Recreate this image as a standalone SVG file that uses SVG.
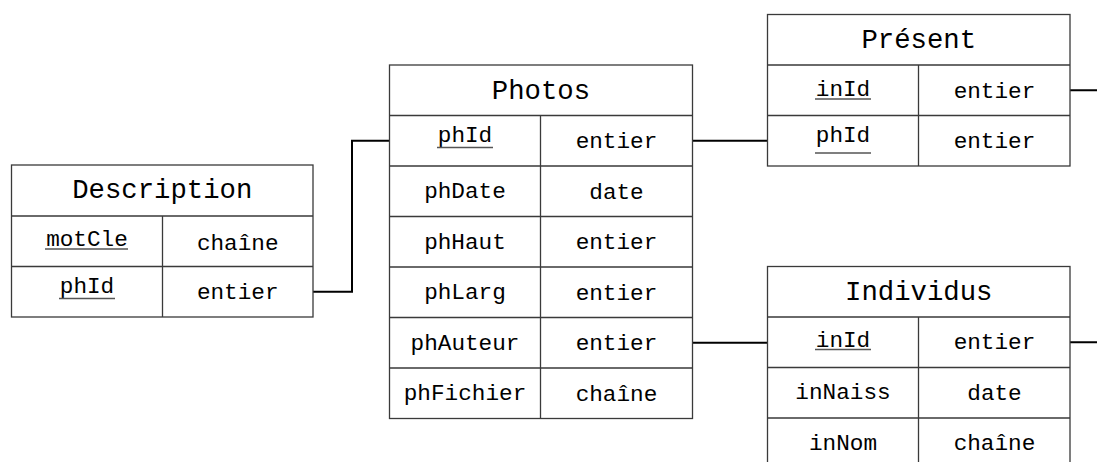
<svg xmlns="http://www.w3.org/2000/svg" width="1097" height="462" viewBox="0 0 1097 462">
  <style>
    .cell { fill: #ffffff; stroke: #3a3a3a; stroke-width: 1.3; }
    .sep { stroke: #3a3a3a; stroke-width: 1.3; fill: none; }
    .title { font-family: "Liberation Mono", "DejaVu Sans Mono", monospace; font-size: 27.3px; fill: #000; text-anchor: middle; }
    .txt { font-family: "Liberation Mono", "DejaVu Sans Mono", monospace; font-size: 22.7px; fill: #000; text-anchor: middle; }
    .key { stroke: #555; stroke-width: 1.3; fill: none; }
    .link { stroke: #000; stroke-width: 2; fill: none; }
  </style>

  <!-- relationships between tables -->
  <g id="connectors">
    <path class="link" d="M313,291.75 H352 V140.75 H389.5"/>
    <path class="link" d="M692.5,140.75 H767.5"/>
    <path class="link" d="M692.5,342.75 H767.5"/>
    <path class="link" d="M1070,90.25 H1097"/>
    <path class="link" d="M1070,342.25 H1097"/>
  </g>

  <!-- Description table -->
  <g id="description">
    <rect class="cell" x="11.5" y="165" width="301.5" height="152"/>
    <path class="sep" d="M11.5,216 H313 M11.5,266.5 H313 M162.5,216 V317"/>
    <text class="title" x="162.25" y="198">Description</text>
    <text class="txt" x="87" y="246">motCle</text>
    <path class="key" d="M45,249 H128"/>
    <text class="txt" x="237.75" y="249.5">chaîne</text>
    <text class="txt" x="87" y="293">phId</text>
    <path class="key" d="M59,298.5 H115"/>
    <text class="txt" x="237.75" y="299">entier</text>
  </g>

  <!-- Photos table -->
  <g id="photos">
    <rect class="cell" x="389.5" y="65" width="303" height="353.5"/>
    <path class="sep" d="M389.5,115.5 H692.5 M389.5,166 H692.5 M389.5,216.5 H692.5 M389.5,267 H692.5 M389.5,317.5 H692.5 M389.5,368 H692.5 M540.5,115.5 V418.5"/>
    <text class="title" x="541" y="98.5">Photos</text>
    <text class="txt" x="465" y="142">phId</text>
    <path class="key" d="M437,147.5 H493"/>
    <text class="txt" x="616.5" y="148">entier</text>
    <text class="txt" x="465" y="198">phDate</text>
    <text class="txt" x="616.5" y="198.5">date</text>
    <text class="txt" x="465" y="248.5">phHaut</text>
    <text class="txt" x="616.5" y="249">entier</text>
    <text class="txt" x="465" y="299">phLarg</text>
    <text class="txt" x="616.5" y="299.5">entier</text>
    <text class="txt" x="465" y="349.5">phAuteur</text>
    <text class="txt" x="616.5" y="350">entier</text>
    <text class="txt" x="465" y="400">phFichier</text>
    <text class="txt" x="616.5" y="400.5">chaîne</text>
  </g>

  <!-- Présent table -->
  <g id="present">
    <rect class="cell" x="767.5" y="14.5" width="302.5" height="151.5"/>
    <path class="sep" d="M767.5,65 H1070 M767.5,115.5 H1070 M918.5,65 V166"/>
    <text class="title" x="918.75" y="48">Présent</text>
    <text class="txt" x="843" y="96">inId</text>
    <path class="key" d="M815,99 H871"/>
    <text class="txt" x="994.5" y="97.5">entier</text>
    <text class="txt" x="843" y="142">phId</text>
    <path class="key" d="M815,153 H871"/>
    <text class="txt" x="994.5" y="148">entier</text>
  </g>

  <!-- Individus table -->
  <g id="individus">
    <rect class="cell" x="767.5" y="266.5" width="302.5" height="202"/>
    <path class="sep" d="M767.5,317 H1070 M767.5,367.5 H1070 M767.5,418 H1070 M918.5,317 V468.5"/>
    <text class="title" x="918.75" y="300">Individus</text>
    <text class="txt" x="843" y="347">inId</text>
    <path class="key" d="M815,349.5 H871"/>
    <text class="txt" x="994.5" y="349">entier</text>
    <text class="txt" x="843" y="399">inNaiss</text>
    <text class="txt" x="994.5" y="399.5">date</text>
    <text class="txt" x="843" y="449.5">inNom</text>
    <text class="txt" x="994.5" y="450">chaîne</text>
  </g>
</svg>
